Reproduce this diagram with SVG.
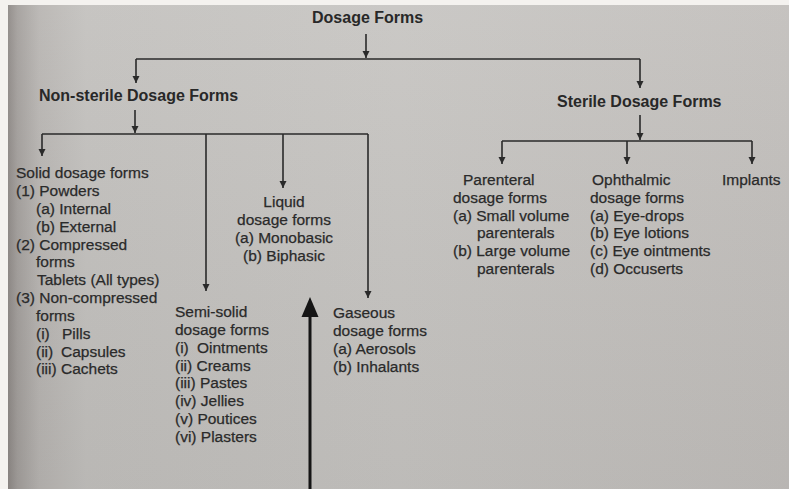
<svg xmlns="http://www.w3.org/2000/svg" width="789" height="489" viewBox="0 0 789 489">
  <defs>
    <linearGradient id="page" x1="0" y1="0" x2="1" y2="0">
      <stop offset="0" stop-color="#8e8986"/>
      <stop offset="0.012" stop-color="#a39f9c"/>
      <stop offset="0.04" stop-color="#b8b5b2"/>
      <stop offset="0.1" stop-color="#c3c1be"/>
      <stop offset="0.5" stop-color="#c7c5c2"/>
      <stop offset="1" stop-color="#c2bfbc"/>
    </linearGradient>
    <linearGradient id="shade" x1="0" y1="0" x2="0" y2="1">
      <stop offset="0" stop-color="#ffffff" stop-opacity="0.06"/>
      <stop offset="1" stop-color="#000000" stop-opacity="0.05"/>
    </linearGradient>
    <marker id="ah" markerUnits="userSpaceOnUse" markerWidth="8" markerHeight="9" refX="7" refY="3.5" orient="auto">
      <path d="M0,0 L7,3.5 L0,7 Z" fill="#2a2a2a"/>
    </marker>
    <style>
      .t { font-family: "Liberation Sans", Arial, sans-serif; font-size: 15.5px; fill: #2a2a2a; stroke: #2a2a2a; stroke-width: 0.25px; }
      .b { font-family: "Liberation Sans", Arial, sans-serif; font-size: 16px; font-weight: bold; fill: #282828; }
      .c { text-anchor: middle; }
      .ln { fill: none; stroke: #2a2a2a; stroke-width: 1.6; }
      .ar { fill: none; stroke: #2a2a2a; stroke-width: 1.6; marker-end: url(#ah); }
    </style>
  </defs>

  <rect x="0" y="0" width="789" height="489" fill="#f4f2ef"/>
  <rect x="8" y="5" width="781" height="484" fill="url(#page)"/>
  <rect x="8" y="5" width="781" height="484" fill="url(#shade)"/>

  <g id="connectors">
    <path class="ar" d="M366,34 V58"/>
    <path class="ln" d="M136,59 H640"/>
    <path class="ar" d="M136,59 V83"/>
    <path class="ar" d="M640,59 V88"/>
    <path class="ar" d="M135,110 V133"/>
    <path class="ln" d="M42,134 H368"/>
    <path class="ar" d="M42,134 V156"/>
    <path class="ar" d="M206,134 V291"/>
    <path class="ar" d="M283,134 V188"/>
    <path class="ar" d="M368,134 V298"/>
    <path class="ar" d="M640,115 V140"/>
    <path class="ln" d="M502,141 H752"/>
    <path class="ar" d="M502,141 V164"/>
    <path class="ar" d="M627,141 V164"/>
    <path class="ar" d="M752,141 V164"/>
  </g>

  <g id="pointer">
    <path d="M310,489 V312" fill="none" stroke="#151515" stroke-width="3"/>
    <path d="M301.5,317 L318.5,317 L310,297 Z" fill="#151515"/>
  </g>

  <g id="dosage-forms">
    <text class="b" x="312" y="23">Dosage Forms</text>
  </g>
  <g id="non-sterile">
    <text class="b" x="39" y="101">Non-sterile Dosage Forms</text>
  </g>
  <g id="sterile">
    <text class="b" x="557" y="107">Sterile Dosage Forms</text>
  </g>

  <g id="solid">
    <text class="t" x="16" y="178">Solid dosage forms</text>
    <text class="t" x="16" y="196">(1) Powders</text>
    <text class="t" x="36" y="214">(a) Internal</text>
    <text class="t" x="36" y="232">(b) External</text>
    <text class="t" x="16" y="250">(2) Compressed</text>
    <text class="t" x="36" y="267">forms</text>
    <text class="t" x="37" y="285">Tablets (All types)</text>
    <text class="t" x="16" y="303">(3) Non-compressed</text>
    <text class="t" x="36" y="321">forms</text>
    <text class="t" x="36" y="339">(i)<tspan x="62">Pills</tspan></text>
    <text class="t" x="36" y="357">(ii)<tspan x="61">Capsules</tspan></text>
    <text class="t" x="36" y="374">(iii)<tspan x="61">Cachets</tspan></text>
  </g>

  <g id="semi-solid">
    <text class="t" x="175" y="317">Semi-solid</text>
    <text class="t" x="175" y="335">dosage forms</text>
    <text class="t" x="175" y="353">(i)<tspan x="197">Ointments</tspan></text>
    <text class="t" x="175" y="371">(ii) Creams</text>
    <text class="t" x="175" y="388">(iii) Pastes</text>
    <text class="t" x="175" y="406">(iv) Jellies</text>
    <text class="t" x="175" y="424">(v) Poutices</text>
    <text class="t" x="175" y="442">(vi) Plasters</text>
  </g>

  <g id="liquid">
    <text class="t c" x="284" y="207">Liquid</text>
    <text class="t c" x="284" y="225">dosage forms</text>
    <text class="t c" x="284" y="243">(a) Monobasic</text>
    <text class="t c" x="284" y="261">(b) Biphasic</text>
  </g>

  <g id="gaseous">
    <text class="t" x="333" y="318">Gaseous</text>
    <text class="t" x="333" y="336">dosage forms</text>
    <text class="t" x="333" y="354">(a) Aerosols</text>
    <text class="t" x="333" y="372">(b) Inhalants</text>
  </g>

  <g id="parenteral">
    <text class="t" x="463" y="185">Parenteral</text>
    <text class="t" x="453" y="203">dosage forms</text>
    <text class="t" x="453" y="221">(a) Small volume</text>
    <text class="t" x="477" y="238">parenterals</text>
    <text class="t" x="453" y="256">(b) Large volume</text>
    <text class="t" x="477" y="274">parenterals</text>
  </g>

  <g id="ophthalmic">
    <text class="t" x="592" y="185">Ophthalmic</text>
    <text class="t" x="590" y="203">dosage forms</text>
    <text class="t" x="590" y="221">(a) Eye-drops</text>
    <text class="t" x="590" y="238">(b) Eye lotions</text>
    <text class="t" x="590" y="256">(c) Eye ointments</text>
    <text class="t" x="590" y="274">(d) Occuserts</text>
  </g>

  <g id="implants">
    <text class="t" x="722" y="185">Implants</text>
  </g>
</svg>
